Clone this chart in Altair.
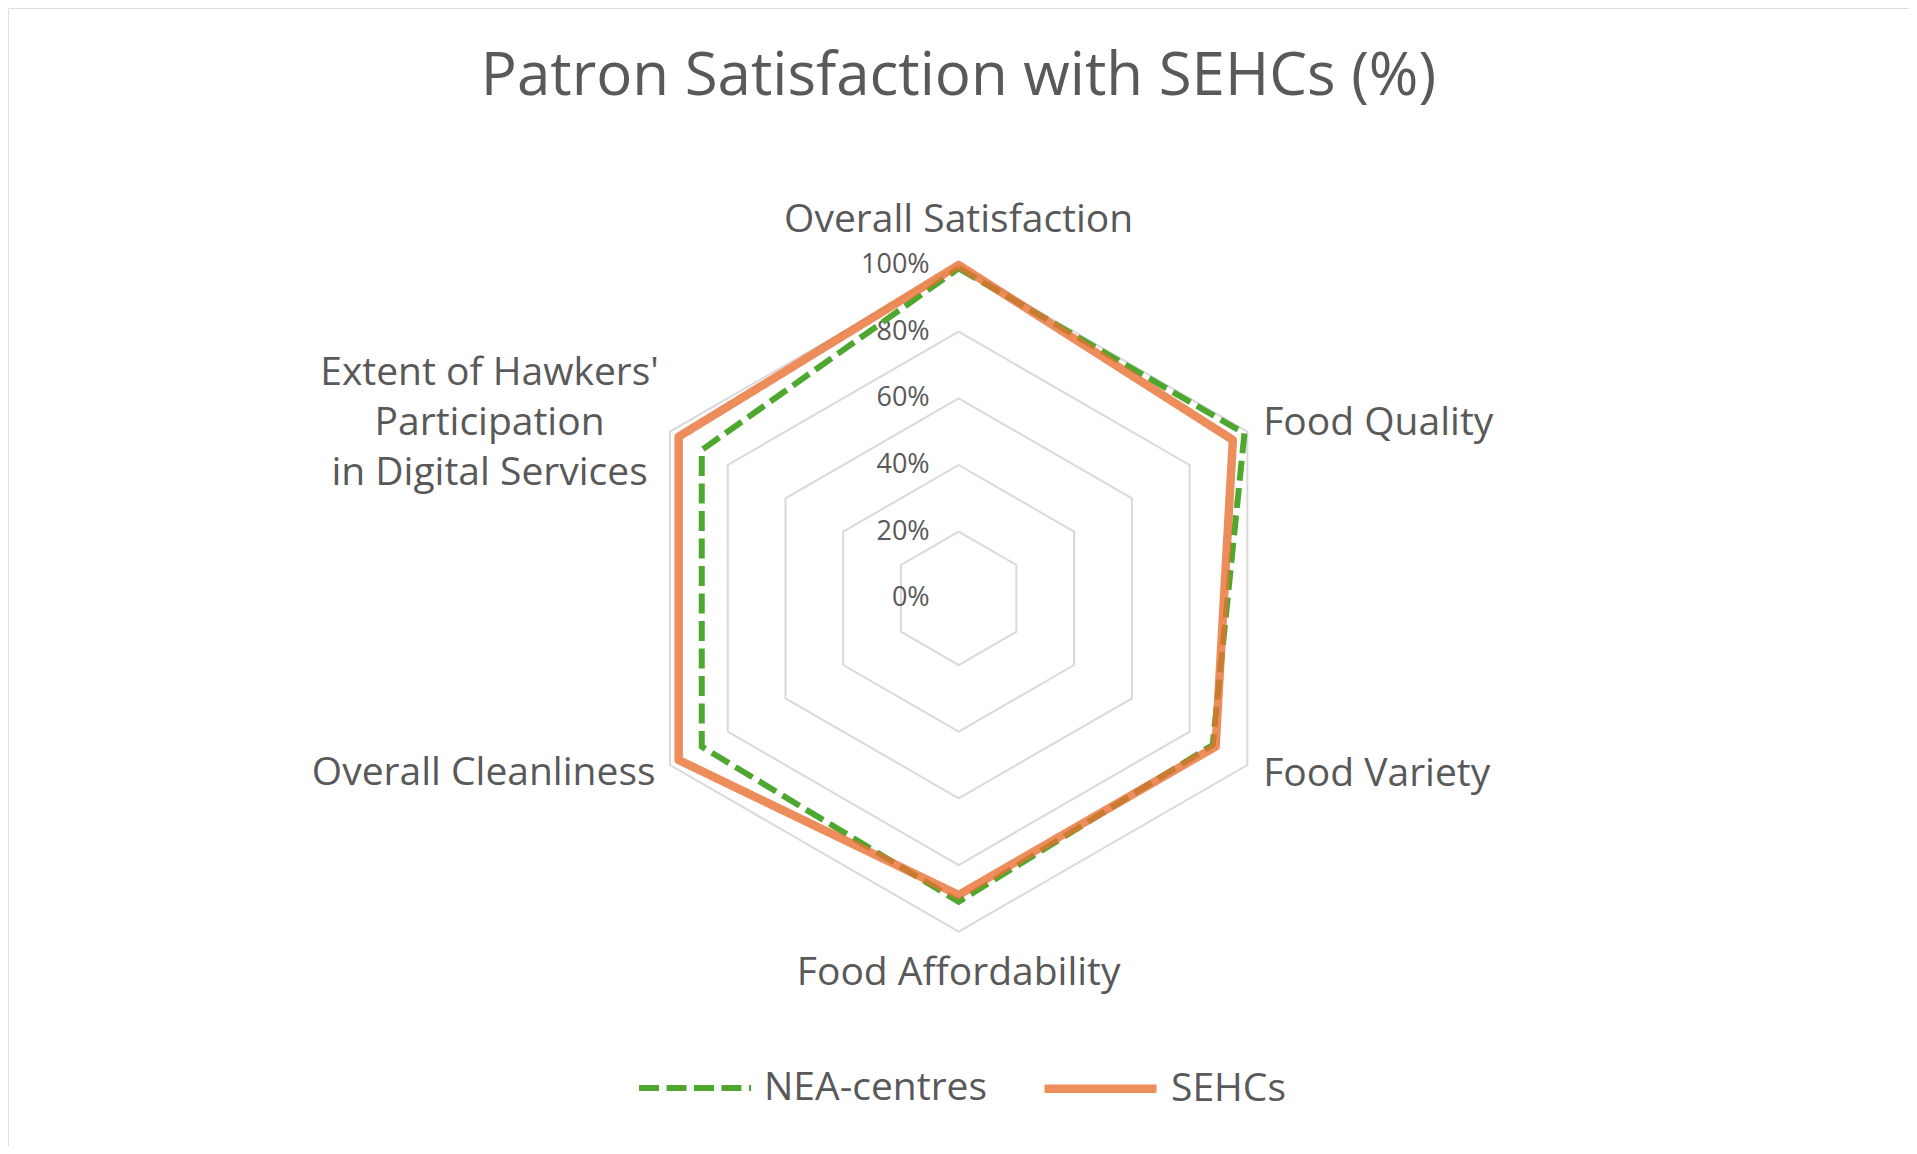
import altair as alt
import pandas as pd

# ---- data ----
categories = [
    "Overall Satisfaction",
    "Food Quality",
    "Food Variety",
    "Food Affordability",
    "Overall Cleanliness",
    "Extent of Hawkers'\nParticipation\nin Digital Services",
]
nea_values = [99, 99, 88, 91, 89, 89]
sehc_values = [100, 95, 89, 89, 97, 97]
series_names = ["NEA-centres", "SEHCs"]
grid_levels = [20, 40, 60, 80, 100]
tick_values = [0, 20, 40, 60, 80, 100]
tick_labels = ["0%", "20%", "40%", "60%", "80%", "100%"]

# ---- tables built from the arrays ----
n = len(categories)
rows = []
for name, vals in zip(series_names, [nea_values, sehc_values]):
    for p in range(n + 1):
        rows.append({"series": name, "pt": p, "k": p % n, "value": vals[p % n]})
series_df = pd.DataFrame(rows)

grid_rows = []
for lv in grid_levels:
    for p in range(n + 1):
        grid_rows.append({"level": lv, "pt": p, "k": p % n, "value": lv})
grid_df = pd.DataFrame(grid_rows)

label_df = pd.DataFrame({"cat": categories, "k": list(range(n))})
tick_df = pd.DataFrame({"value": tick_values, "label": tick_labels})

FONT = "Open Sans"
TXT = "#595959"
LAB = 39

xs = alt.Scale(domain=[-285.2, 285.1], nice=False, zero=False)
ys = alt.Scale(domain=[-164.3, 177.1], nice=False, zero=False)

def polar(chart, r=None):
    val = "datum.value" if r is None else str(r)
    return chart.transform_calculate(
        ang=f"datum.k * 2 * PI / {n}",
    ).transform_calculate(
        px=f"{val} * sin(datum.ang)",
        py=f"{val} * cos(datum.ang)",
    )

X = alt.X("px:Q", scale=xs, axis=None)
Y = alt.Y("py:Q", scale=ys, axis=None)

grid = polar(alt.Chart(grid_df)).mark_line(
    color="#d9d9d9", strokeWidth=2
).encode(x=X, y=Y, detail="level:N", order="pt:Q")

color_scale = alt.Scale(domain=series_names, range=["#4EA72E", "#E97132"])
dash_scale = alt.Scale(domain=series_names, range=[[20, 7.5], [1, 0]])
width_scale = alt.Scale(domain=series_names, range=[6, 8.5])
op_scale = alt.Scale(domain=series_names, range=[1, 0.8])

legend = alt.Legend(
    title=None, orient="none", legendX=628, legendY=1020, direction="horizontal",
    symbolType="stroke", symbolSize=12544, labelFontSize=LAB, labelFont=FONT,
    labelColor=TXT, labelOffset=10, columnPadding=39, padding=0, labelLimit=400,
)

def series_layer(name, cap, join):
    return polar(alt.Chart(series_df)).transform_filter(
        alt.datum.series == name
    ).mark_line(strokeCap=cap, strokeJoin=join).encode(
        x=X, y=Y, order="pt:Q",
        color=alt.Color("series:N", scale=color_scale, legend=legend),
        strokeDash=alt.StrokeDash("series:N", scale=dash_scale, legend=legend),
        strokeWidth=alt.StrokeWidth("series:N", scale=width_scale, legend=legend),
        opacity=alt.Opacity("series:N", scale=op_scale, legend=legend),
    )

nea_line = series_layer("NEA-centres", "butt", "miter")
sehc_line = series_layer("SEHCs", "round", "round")

def label_layer(ks, r, align, dx=0, dy=0):
    return polar(alt.Chart(label_df), r).transform_filter(
        alt.FieldOneOfPredicate(field="k", oneOf=ks)
    ).mark_text(
        align=align, baseline="middle", dx=dx, dy=dy, font=FONT, fontSize=LAB,
        color=TXT, lineBreak="\n", lineHeight=50,
    ).encode(x=X, y=Y, text="cat:N")

lab_top = label_layer([0], 113.5, "center")
lab_bottom = label_layer([3], 112.5, "center")
lab_right = label_layer([1, 2], 105.5, "left")
lab_left = label_layer([4], 105, "right")
lab_hawk = label_layer([5], 105, "center", dx=-166, dy=-50)

ticks = alt.Chart(tick_df).transform_calculate(px="0", py="datum.value").mark_text(
    align="right", baseline="middle", dx=-29, font=FONT, fontSize=27, color=TXT
).encode(x=X, y=Y, text="label:N")

chart = alt.layer(
    grid, ticks, nea_line, sehc_line, lab_top, lab_bottom, lab_right, lab_left, lab_hawk
).properties(
    width=1901, height=1138,
    title=alt.TitleParams(
        "Patron Satisfaction with SEHCs (%)", font=FONT, fontSize=60,
        fontWeight="normal", color=TXT, anchor="middle", baseline="middle", offset=-129,
    ),
    autosize=alt.AutoSizeParams(type="none"),
    padding=0,
).configure_view(stroke="#d9d9d9", strokeWidth=1.5).configure(background="white")

chart.save("out.html", embed_options={"renderer": "svg", "actions": False})
